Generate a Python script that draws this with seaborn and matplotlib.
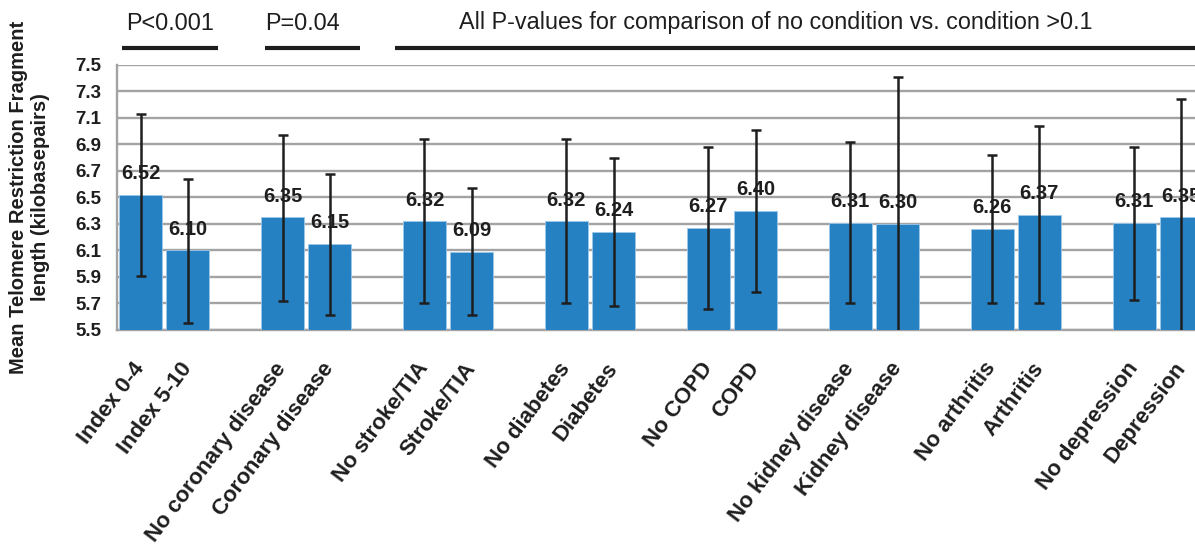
import matplotlib
matplotlib.use("Agg")
import matplotlib.pyplot as plt
import matplotlib.transforms as mtransforms
import seaborn as sns
import pandas as pd
import numpy as np

# ---- data ----
categories = ["Index 0-4", "Index 5-10",
              "No coronary disease", "Coronary disease",
              "No stroke/TIA", "Stroke/TIA",
              "No diabetes", "Diabetes",
              "No COPD", "COPD",
              "No kidney disease", "Kidney disease",
              "No arthritis", "Arthritis",
              "No depression", "Depression"]
means = [6.52, 6.10, 6.35, 6.15, 6.32, 6.09, 6.32, 6.24,
         6.27, 6.40, 6.31, 6.30, 6.26, 6.37, 6.31, 6.35]
upper = [7.13, 6.64, 6.97, 6.68, 6.94, 6.57, 6.94, 6.80,
         6.88, 7.01, 6.92, 7.41, 6.82, 7.04, 6.88, 7.24]
lower = [5.91, 5.55, 5.72, 5.61, 5.70, 5.61, 5.70, 5.68,
         5.66, 5.79, 5.70, 5.19, 5.70, 5.70, 5.73, 5.46]
yticks = [5.5, 5.7, 5.9, 6.1, 6.3, 6.5, 6.7, 6.9, 7.1, 7.3, 7.5]
ylabel = "Mean Telomere Restriction Fragment\nlength (kilobasepairs)"
pvalue_texts = ["P<0.001", "P=0.04",
                "All P-values for comparison of no condition vs. condition >0.1"]

# slot order: two bars per group followed by an empty gap slot
order = []
for i in range(0, len(categories), 2):
    order += [categories[i], categories[i + 1]]
    if i + 2 < len(categories):
        order.append(" " * (i // 2 + 1))

df = pd.DataFrame({"label": categories, "mean": means})

sns.set_theme(style="white")
plt.rcParams["font.family"] = ["Liberation Sans", "DejaVu Sans"]

W, H = 1195, 548
fig = plt.figure(figsize=(W / 100, H / 100), dpi=100)
ax = fig.add_axes([117 / W, (H - 330) / H, 1088 / W, 265 / H])

BAR = "#2681C3"
GRID = "#A3A3A3"
INK = "#1E1E1E"

sns.barplot(data=df, x="label", y="mean", order=order, color=BAR,
            width=0.91, edgecolor="#9CC8EA", linewidth=0.6,
            errorbar=None, ax=ax, zorder=3, saturation=1)

pos = [order.index(c) for c in categories]
m = np.array(means)
yerr = np.vstack([m - np.array(lower), np.array(upper) - m])
ax.errorbar(pos, means, yerr=yerr, fmt="none", ecolor=INK,
            elinewidth=1.8, capsize=3.6, capthick=1.8, zorder=5,
            clip_on=True)

for p, v in zip(pos, means):
    ax.annotate(f"{v:.2f}", (p, v), xytext=(0, 8.5), textcoords="offset points",
                ha="center", va="bottom", fontsize=14.5, fontweight="bold",
                color=INK, zorder=6)

ax.set_ylim(5.5, 7.5)
ax.set_xlim(-0.5, len(order) - 0.5)
ax.set_yticks(yticks)
ax.set_yticklabels([f"{t:.1f}" for t in yticks], fontsize=13.5,
                   fontweight="bold", color=INK)
ax.yaxis.grid(True, color=GRID, linewidth=1.7, zorder=0)
ax.set_axisbelow(True)

for s in ["top", "right"]:
    ax.spines[s].set_visible(False)
for s in ["left", "bottom"]:
    ax.spines[s].set_color(GRID)
    ax.spines[s].set_linewidth(1.7)
    ax.spines[s].set_zorder(2)

ax.tick_params(axis="y", length=0, pad=11)
ax.set_xticks(range(len(order)))
ax.set_xticklabels(order, rotation=53, ha="right", rotation_mode="anchor",
                   va="center", fontsize=16, fontweight="bold", color=INK)
ax.tick_params(axis="x", which="major", length=0, pad=25)
ax.set_xticks(np.arange(-0.5, len(order), 1.0), minor=True)
ax.tick_params(axis="x", which="minor", length=4.5, width=1.7,
               color=GRID, direction="out")

ax.set_xlabel("")
ax.set_ylabel(ylabel, fontsize=14.5, fontweight="bold", color=INK,
              linespacing=1.2)
ax.yaxis.set_label_coords(-0.080, 0.5)
ax.yaxis.label.set_verticalalignment("center")

# p-value annotation bars above the chart
trans = mtransforms.blended_transform_factory(ax.transData, fig.transFigure)
spans = [(-0.39, 1.64), (2.63, 4.64), (5.38, len(order) + 1)]
text_x = [0.62, 3.42, 13.42]
for (x0, x1), tx, txt in zip(spans, text_x, pvalue_texts):
    ax.plot([x0, x1], [1 - 48 / H] * 2, transform=trans, color=INK,
            linewidth=3, clip_on=False, solid_capstyle="butt")
    ax.text(tx, 1 - 23 / H, txt, transform=trans, ha="center", va="center",
            fontsize=16.8, color=INK)

fig.savefig("out.png", dpi=100)
